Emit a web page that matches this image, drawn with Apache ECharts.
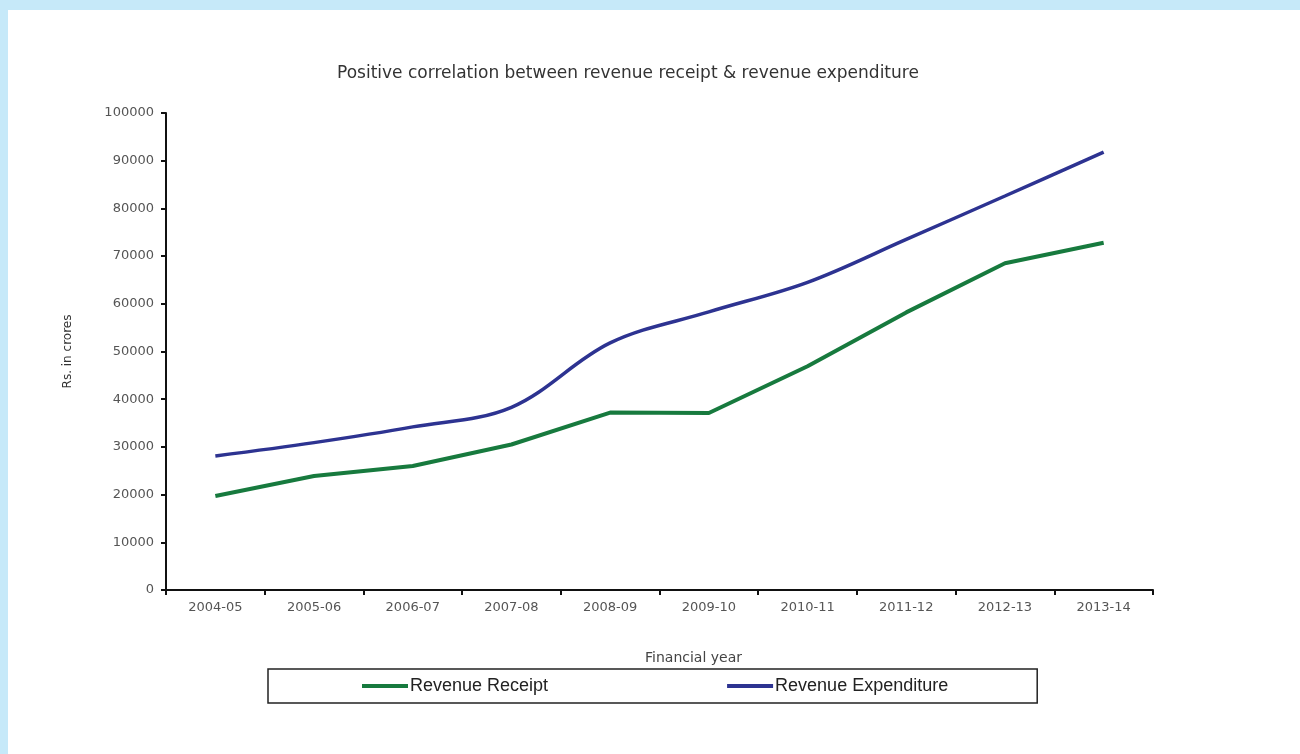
<!DOCTYPE html>
<html>
<head>
<meta charset="utf-8">
<script src="https://cdn.jsdelivr.net/npm/echarts@6/dist/echarts.min.js"></script>
<style>
html,body{margin:0;padding:0;background:#c6e9f9;}
#chart{position:absolute;left:8px;top:10px;width:1292px;height:744px;background:#fff;}
</style>
</head>
<body>
<div id="chart"></div>
<script>
var years = ['2004-05','2005-06','2006-07','2007-08','2008-09','2009-10','2010-11','2011-12','2012-13','2013-14'];
var revenueReceipt = [19700, 23900, 26000, 30500, 37200, 37100, 46900, 58200, 68500, 72800];
var revenueExpenditure = [28100, 30900, 34200, 38300, 51800, 58300, 64500, 73500, 82600, 91800];

var chart = echarts.init(document.getElementById('chart'));
var option = {
    animation: false,
    title: [
        {
            text: 'Positive correlation between revenue receipt & revenue expenditure',
            left: 324,
            top: 50,
            textStyle: {fontFamily: 'DejaVu Sans', fontSize: 17, fontWeight: 'normal', color: '#333'}
        },
        {
            text: 'Financial year',
            left: 632,
            top: 636,
            textStyle: {fontFamily: 'DejaVu Sans', fontSize: 14, fontWeight: 'normal', color: '#444'}
        }
    ],
    grid: {left: 158, right: 147, top: 103, bottom: 164},
    legend: {
        left: 260,
        top: 659,
        padding: [8, 89, 8, 94],
        borderWidth: 1.5,
        borderColor: '#222',
        itemGap: 179,
        itemWidth: 46,
        itemHeight: 4,
        icon: 'rect',
        textStyle: {fontFamily: 'Liberation Sans', fontSize: 18, color: '#222', padding: [0, 0, 0, -3]},
        data: ['Revenue Receipt', 'Revenue Expenditure']
    },
    xAxis: {
        type: 'category',
        data: years,
        boundaryGap: true,
        axisLine: {lineStyle: {color: '#111', width: 2}},
        axisTick: {show: true, alignWithLabel: false, length: 5, lineStyle: {color: '#111', width: 2}},
        axisLabel: {margin: 11, fontFamily: 'DejaVu Sans', fontSize: 13, color: '#555'}
    },
    yAxis: {
        type: 'value',
        min: 0,
        max: 100000,
        interval: 10000,
        name: 'Rs. in crores',
        nameLocation: 'middle',
        nameGap: 92,
        nameTextStyle: {fontFamily: 'DejaVu Sans', fontSize: 12, color: '#333'},
        axisLine: {show: true, lineStyle: {color: '#111', width: 2}},
        axisTick: {show: true, length: 5, lineStyle: {color: '#111', width: 2}},
        splitLine: {show: false},
        axisLabel: {
            margin: 12,
            fontFamily: 'DejaVu Sans',
            fontSize: 13,
            color: '#555',
            formatter: function (v) { return String(v); }
        }
    },
    series: [
        {
            name: 'Revenue Receipt',
            type: 'line',
            data: revenueReceipt,
            symbol: 'none',
            smooth: false,
            itemStyle: {color: '#177a3e'},
            lineStyle: {color: '#177a3e', width: 4}
        },
        {
            name: 'Revenue Expenditure',
            type: 'line',
            data: revenueExpenditure,
            symbol: 'none',
            smooth: 0.35,
            itemStyle: {color: '#2d3391'},
            lineStyle: {color: '#2d3391', width: 3.5}
        }
    ]
};
chart.setOption(option);
</script>
</body>
</html>
